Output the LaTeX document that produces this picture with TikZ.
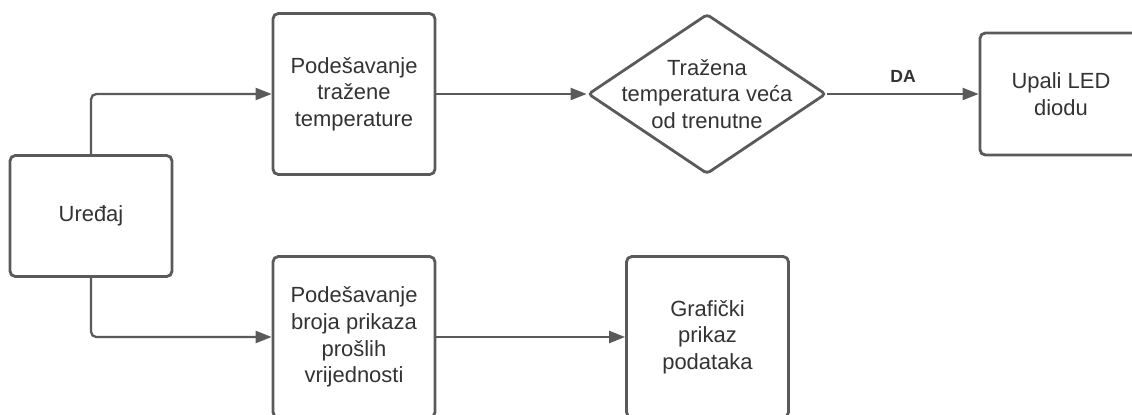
\documentclass[tikz,border=0pt]{standalone}
\usepackage{fontspec}
\setmainfont{Liberation Sans}
\usetikzlibrary{shapes.geometric,arrows.meta}
\definecolor{lineGray}{HTML}{5A5A5A}
\definecolor{textGray}{HTML}{333333}
\tikzset{
    block/.style={draw=lineGray, line width=1.6pt, rounded corners=3pt,
        align=center, text=textGray, font=\fontsize{12.5}{15.2}\selectfont,
        minimum width=3.24cm, inner sep=0pt},
    decision/.style={draw=lineGray, line width=1.6pt, diamond, rounded corners=2pt,
        minimum width=4.76cm, minimum height=3.2cm, inner sep=0pt},
    link/.style={draw=lineGray, line width=1.3pt, rounded corners=3pt,
        -{Triangle[length=0.32cm,width=0.24cm]}},
}

\begin{document}
\begin{tikzpicture}[x=0.02cm, y=-0.02cm]
    \path[use as bounding box, clip] (0,0) rectangle (1132,414);
    \node[block, minimum height=2.42cm] (device) at (91,216) {Uređaj};
    \node[block, minimum height=3.22cm] (setTemp) at (354,94)
        {Podešavanje\\tražene\\temperature};
    \node[decision, label={[align=center, text=textGray,
        font=\fontsize{12.5}{15.2}\selectfont]center:Tražena\\temperatura veća\\od trenutne}]
        (compare) at (707,94) {};
    \node[block, minimum height=2.44cm] (led) at (1061,94) {Upali LED\\diodu};
    \node[block, minimum height=3.22cm] (setHist) at (354,337)
        {Podešavanje\\broja prikaza\\prošlih\\vrijednosti};
    \node[block, minimum height=3.22cm] (chart) at (707.5,337)
        {Grafički\\prikaz\\podataka};
    \draw[link] (device.north) |- (setTemp.west);
    \draw[link] (device.south) |- (setHist.west);
    \draw[link] (setTemp.east) -- (compare.west);
    \draw[link] (compare.east) -- node[above, inner sep=0pt, yshift=0.2cm,
        text=textGray, font=\fontsize{10}{12}\selectfont\bfseries] (yes) {DA} (led.west);
    \draw[link] (setHist.east) -- (chart.west);
\end{tikzpicture}
\end{document}
